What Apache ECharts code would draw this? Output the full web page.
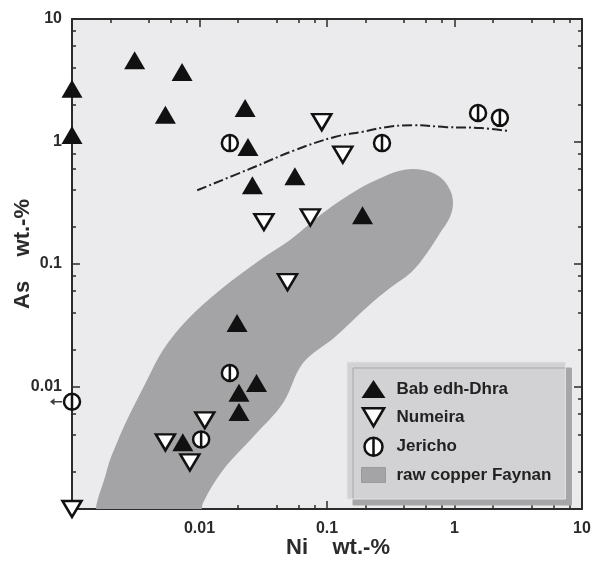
<!DOCTYPE html>
<html>
<head>
<meta charset="utf-8">
<script src="https://cdn.jsdelivr.net/npm/echarts@6/dist/echarts.min.js"></script>
<style>
  html, body { margin: 0; padding: 0; background: #ffffff; }
  #chart { width: 593px; height: 562px; }
</style>
</head>
<body>
<div id="chart"></div>
<script>
// Ni and As contents (wt.-%) of the copper objects, as [Ni, As]
const babEdhDhra = [
  [0.001, 2.7], [0.001, 1.13], [0.0031, 4.6], [0.0073, 3.7], [0.0054, 1.65],
  [0.0228, 1.88], [0.024, 0.9], [0.026, 0.44], [0.056, 0.52], [0.19, 0.25],
  [0.0197, 0.033], [0.028, 0.0107], [0.0204, 0.0089], [0.0204, 0.0062], [0.0074, 0.0035]
];
const numeira = [
  [0.001, 0.001], [0.091, 1.44], [0.133, 0.78], [0.032, 0.22], [0.074, 0.24],
  [0.049, 0.071], [0.011, 0.0053], [0.0054, 0.0035], [0.0084, 0.0024]
];
const jericho = [
  [0.0173, 0.97], [0.27, 0.97], [1.53, 1.71], [2.27, 1.56],
  [0.0173, 0.0129], [0.0103, 0.0037], [0.001, 0.0075]
];
// Jericho sample whose Ni lies below the detection limit
const jerichoBelowLimit = [[0.001, 0.0075]];

// outline of the field of raw copper from Faynan (runs on below the axis, cut by the plot area)
const faynanOutline = [
  [0.00165, 0.0008], [0.00188, 0.00208], [0.0023, 0.00366], [0.0027, 0.00533],
  [0.00388, 0.0113], [0.00517, 0.0199], [0.00798, 0.0349], [0.0145, 0.0614],
  [0.0298, 0.108], [0.0513, 0.157], [0.093, 0.261], [0.172, 0.402],
  [0.275, 0.513], [0.395, 0.585], [0.566, 0.585], [0.77, 0.513],
  [0.922, 0.402], [0.973, 0.315], [0.922, 0.242], [0.77, 0.179],
  [0.609, 0.123], [0.46, 0.0861], [0.312, 0.0637], [0.215, 0.0463],
  [0.1155, 0.0254], [0.0648, 0.01555], [0.0452, 0.00733], [0.0263, 0.00387],
  [0.0153, 0.00208], [0.01065, 0.00112], [0.0098, 0.0008]
];

// dash-dotted trend curve
const trendLine = [
  [0.0096, 0.40], [0.026, 0.61], [0.056, 0.85], [0.115, 1.09], [0.19, 1.2],
  [0.29, 1.31], [0.47, 1.36], [0.87, 1.31], [1.6, 1.29], [2.6, 1.22]
];

// labels of the decades 0.001 ... 10
const decadeLabels = ['', '0.01', '0.1', '1', '10'];
// minor ticks at 2, 4, 6, 8 within each decade
const minorTicks = [
  0.002, 0.004, 0.006, 0.008,
  0.02, 0.04, 0.06, 0.08,
  0.2, 0.4, 0.6, 0.8,
  2, 4, 6, 8
];

const INK = '#2b2b2b';
const FONT = 'Liberation Sans, Arial, sans-serif';
const numeiraSymbol = 'path://M0,0L20,0L10,17Z';
const jerichoSymbol = 'path://M10,0A10,10,0,1,1,10,20A10,10,0,1,1,10,0ZM10,0L10,20';
const arrowSymbol = 'path://M0,5L6,0L6,4L16,4L16,6L6,6L6,10Z';

function labelFor(v) {
  const i = Math.round(Math.log10(v)) + 3;
  return decadeLabels[i] !== undefined ? decadeLabels[i] : '';
}

function logAxis(extra) {
  return Object.assign({
    type: 'log',
    logBase: 10,
    min: 0.001,
    max: 10,
    splitLine: { show: false },
    axisLine: { show: false },
    axisLabel: { show: false },
    axisTick: { show: false }
  }, extra);
}

const majorLine = { show: true, onZero: false, lineStyle: { color: INK, width: 2 } };
const majorTick = { show: true, inside: true, length: 8, lineStyle: { color: INK, width: 1.5 } };
const minorTick = { show: true, inside: true, length: 4, customValues: minorTicks, lineStyle: { color: INK, width: 1.5 } };
function tickLabel(margin) {
  return {
    show: true, color: INK, fontFamily: FONT, fontWeight: 'bold', fontSize: 16,
    margin: margin, formatter: labelFor
  };
}
const nameStyle = { color: INK, fontFamily: FONT, fontWeight: 'bold', fontSize: 22 };

const chart = echarts.init(document.getElementById('chart'), null, { renderer: 'canvas' });

chart.setOption({
  animation: false,
  backgroundColor: '#ffffff',
  grid: {
    left: 72, top: 19, right: 11, bottom: 53,
    outerBoundsMode: 'none',
    containLabel: false,
    show: true, backgroundColor: '#ebebed', borderWidth: 0
  },
  xAxis: [
    logAxis({
      position: 'bottom', axisLine: majorLine, axisTick: majorTick, axisLabel: tickLabel(12),
      name: 'Ni    wt.-%', nameLocation: 'middle', nameGap: 28, nameMoveOverlap: false,
      nameTextStyle: Object.assign({ padding: [0, 0, 0, 22] }, nameStyle)
    }),
    logAxis({ position: 'bottom', axisTick: minorTick }),
    logAxis({ position: 'top', axisLine: majorLine, axisTick: majorTick }),
    logAxis({ position: 'top', axisTick: minorTick })
  ],
  yAxis: [
    logAxis({
      position: 'left', axisLine: majorLine, axisTick: majorTick, axisLabel: tickLabel(10),
      name: 'As    wt.-%', nameLocation: 'middle', nameGap: 38, nameMoveOverlap: false,
      nameTextStyle: Object.assign({ padding: [0, 0, 0, 20] }, nameStyle)
    }),
    logAxis({ position: 'left', axisTick: minorTick }),
    logAxis({ position: 'right', axisLine: majorLine, axisTick: majorTick }),
    logAxis({ position: 'right', axisTick: minorTick })
  ],
  legend: {
    left: 347,
    top: 362,
    orient: 'vertical',
    backgroundColor: '#d2d2d4',
    borderColor: '#e2e2e4',
    borderWidth: 1,
    borderRadius: 0,
    shadowColor: '#a6a6a8',
    shadowBlur: 0,
    shadowOffsetX: 6,
    shadowOffsetY: 6,
    padding: [18, 14, 15, 14],
    itemWidth: 24,
    itemHeight: 18,
    itemGap: 9,
    selectedMode: false,
    textStyle: {
      color: '#222', fontFamily: FONT, fontWeight: 'bold', fontSize: 17,
      lineHeight: 18, padding: [0, 0, 0, 6]
    },
    data: [
      { name: 'Bab edh-Dhra', icon: 'triangle', itemStyle: { color: '#111', borderWidth: 0 } },
      { name: 'Numeira', icon: numeiraSymbol, itemStyle: { color: '#fff', borderColor: '#111', borderWidth: 2.5 } },
      { name: 'Jericho', icon: jerichoSymbol, itemStyle: { color: '#fff', borderColor: '#111', borderWidth: 2.5 } },
      { name: 'raw copper Faynan', icon: 'path://M0,0h24v15h-24z', itemStyle: { color: '#a4a4a6', borderColor: '#9a9a9c', borderWidth: 1 } }
    ]
  },
  series: [
    {
      name: 'raw copper Faynan',
      type: 'custom',
      xAxisIndex: 0,
      yAxisIndex: 0,
      z: 1,
      clip: true,
      silent: true,
      itemStyle: { color: '#a4a4a6' },
      data: faynanOutline,
      encode: { x: 0, y: 1 },
      renderItem: function (params, api) {
        if (params.dataIndex !== 0) return null;
        const pts = faynanOutline.map(function (p) { return api.coord(p); });
        return {
          type: 'polygon',
          shape: { points: pts, smooth: 0.35 },
          style: { fill: '#a4a4a6' }
        };
      }
    },
    {
      name: 'trend',
      type: 'line',
      z: 2,
      silent: true,
      smooth: 0.4,
      showSymbol: false,
      symbol: 'none',
      data: trendLine,
      lineStyle: { color: '#222', width: 2, type: [10, 3, 2, 3] }
    },
    {
      name: 'Bab edh-Dhra',
      type: 'scatter',
      z: 4,
      clip: false,
      symbol: 'triangle',
      symbolSize: [21, 18],
      itemStyle: { color: '#111', opacity: 1 },
      data: babEdhDhra
    },
    {
      name: 'Numeira',
      type: 'scatter',
      z: 4,
      clip: false,
      symbol: numeiraSymbol,
      symbolSize: [19, 16],
      itemStyle: { color: '#ffffff', borderColor: '#111', borderWidth: 2.5, opacity: 1 },
      data: numeira
    },
    {
      name: 'Jericho',
      type: 'scatter',
      z: 4,
      clip: false,
      symbol: jerichoSymbol,
      symbolSize: [16, 16],
      itemStyle: { color: '#ffffff', borderColor: '#111', borderWidth: 2.5, opacity: 1 },
      data: jericho
    },
    {
      name: 'Jericho below limit',
      type: 'scatter',
      z: 4,
      clip: false,
      silent: true,
      symbol: arrowSymbol,
      symbolSize: [12, 7],
      symbolOffset: [-16, 0],
      itemStyle: { color: '#111' },
      data: jerichoBelowLimit
    }
  ]
});
</script>
</body>
</html>
